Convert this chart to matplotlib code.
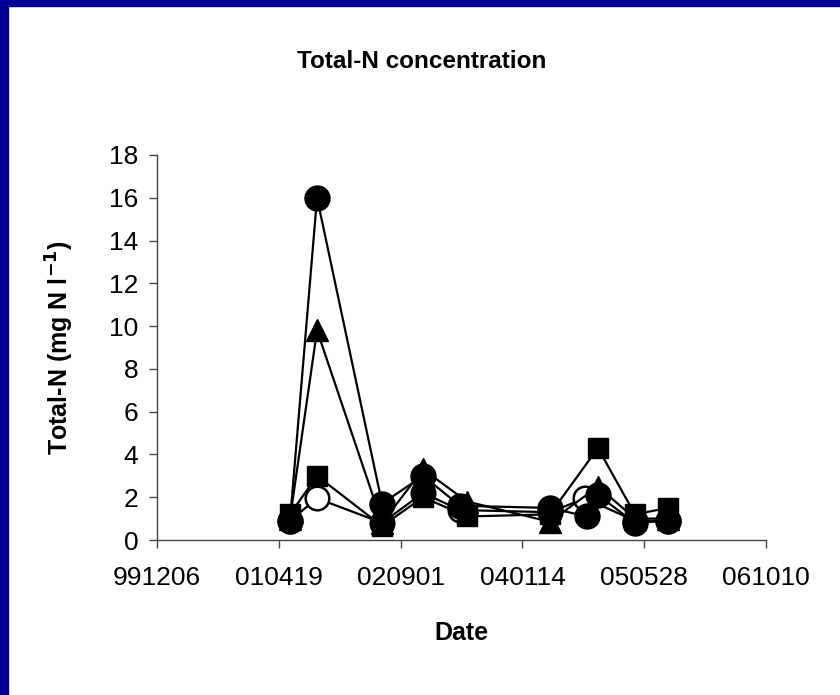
import matplotlib.pyplot as plt
import matplotlib.dates as mdates
import pandas as pd
from matplotlib.patches import Rectangle

plt.rcParams['font.family'] = ['Liberation Sans', 'DejaVu Sans']

# sampling dates and Total-N values (mg N/l) for the four series
dates_a = ['2001-06-04', '2001-09-23', '2002-06-17', '2002-12-02', '2003-05-03',
           '2004-05-06', '2004-10-05', '2004-11-19', '2005-04-20', '2005-09-03']
dates_b = ['2001-06-04', '2001-09-23', '2002-06-17', '2002-12-02', '2003-06-01',
           '2004-05-06', '2004-11-19', '2005-04-20', '2005-09-03']
dates_c = ['2001-06-04', '2001-09-23', '2002-06-17', '2002-12-02', '2003-05-03',
           '2004-05-06', '2004-09-27', '2005-04-20', '2005-09-03']

circle_vals = [0.9, 16.0, 1.7, 3.0, 1.6, 1.5, 1.1, 2.1, 0.8, 0.9]
triangle_vals = [1.0, 9.8, 0.8, 3.3, 1.8, 0.85, 2.5, 1.0, 1.0]
square_vals = [1.2, 3.0, 0.65, 2.0, 1.1, 1.2, 4.3, 1.2, 1.5]
open_vals = [0.9, 1.95, 0.8, 2.2, 1.4, 1.3, 1.95, 0.9, 0.9]

tick_start = '1999-12-06'
y_ticks = list(range(0, 19, 2))

fig = plt.figure(figsize=(8.4, 6.95), dpi=100)
fig.patch.set_facecolor('white')

# blue frame on the left and top edges
fig.patches.append(Rectangle((0, 0), 8 / 840, 1, transform=fig.transFigure,
                             color='#000099', zorder=0))
fig.patches.append(Rectangle((0, 1 - 6 / 695), 1, 6 / 695, transform=fig.transFigure,
                             color='#000099', zorder=0))

ax = fig.add_axes([157 / 840, 155 / 695, 609 / 840, 385 / 695])

lw = 1.6
ax.plot(pd.to_datetime(dates_c), open_vals, color='black', lw=lw, marker='o',
        markersize=17, markerfacecolor='white', markeredgecolor='black',
        markeredgewidth=1.8, zorder=2)
ax.plot(pd.to_datetime(dates_b), square_vals, color='black', lw=lw, marker='s',
        markersize=14, markerfacecolor='black', zorder=3)
ax.plot(pd.to_datetime(dates_b), triangle_vals, color='black', lw=lw, marker='^',
        markersize=16, markerfacecolor='black', zorder=4)
ax.plot(pd.to_datetime(dates_a), circle_vals, color='black', lw=lw, marker='o',
        markersize=18, markerfacecolor='black', zorder=5)

xt = pd.date_range(tick_start, periods=6, freq='500D')
ax.set_xlim(xt[0], xt[-1])
ax.set_xticks(xt)
ax.xaxis.set_major_formatter(mdates.DateFormatter('%y%m%d'))
ax.set_ylim(0, 18)
ax.set_yticks(y_ticks)

for s in ['top', 'right']:
    ax.spines[s].set_visible(False)
for s in ['left', 'bottom']:
    ax.spines[s].set_color('#444444')
    ax.spines[s].set_linewidth(1.0)

ax.tick_params(axis='x', direction='out', length=6, width=1, color='#444444',
               labelsize=19, pad=13)
ax.tick_params(axis='y', direction='out', length=5.5, width=1, color='#444444',
               labelsize=19, pad=8)

ax.set_xlabel('Date', fontsize=18, fontweight='bold', va='center')
ax.xaxis.set_label_coords(0.5, -0.242)
ax.set_ylabel('Total-N (mg N l$^{\\mathbf{-1}}$)', fontsize=18, fontweight='bold',
              va='center')
ax.yaxis.set_label_coords(-0.16, 0.5)

fig.text(0.502, 1 - 62 / 695, 'Total-N concentration', ha='center', va='center',
         fontsize=17.5, fontweight='bold')

plt.savefig('out.png', dpi=100)
